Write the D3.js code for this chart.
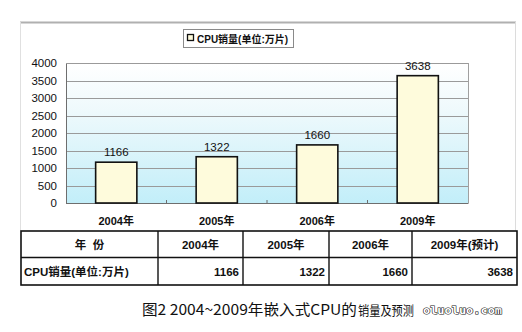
<!DOCTYPE html>
<html><head><meta charset="utf-8">
<script src="https://cdn.jsdelivr.net/npm/d3@7"></script>
<style>
html,body{margin:0;padding:0;background:#fff;}
svg{display:block;}
</style></head>
<body>
<script>
// ---- data ----
const categories = ["2004年", "2005年", "2006年", "2009年"];
const values = [1166, 1322, 1660, 3638];
const yTicks = [0, 500, 1000, 1500, 2000, 2500, 3000, 3500, 4000];
const seriesName = "CPU销量(单位:万片)";
const tableHeader = ["年  份", "2004年", "2005年", "2006年", "2009年(预计)"];
const tableRowLabel = "CPU销量(单位:万片)";
const tableValues = [1166, 1322, 1660, 3638];
const captionMain = "图2 2004~2009年嵌入式CPU的";
const captionTail = "销量及预测";
const watermarkText = "oluoluo.com";

// ---- layout ----
const W = 522, H = 332;
const plot = {left: 66, right: 468, top: 63, bottom: 203};
const tableCols = [21, 158, 243, 329, 412, 517];
const tableRows = [231, 257.5, 285];
const latin = "'Liberation Sans', Arial, 'Noto Sans CJK SC', sans-serif";
const narrow = "'Liberation Sans Narrow', 'Liberation Sans', 'Noto Sans CJK SC', sans-serif";

const svg = d3.select("body").append("svg").attr("width", W).attr("height", H);
svg.append("rect").attr("width", W).attr("height", H).attr("fill", "#fff");

const defs = svg.append("defs");
const grad = defs.append("linearGradient").attr("id", "bg").attr("x1", 0).attr("y1", 0).attr("x2", 0).attr("y2", 1);
grad.append("stop").attr("offset", "0%").attr("stop-color", "#ffffff");
grad.append("stop").attr("offset", "35%").attr("stop-color", "#eef9fc");
grad.append("stop").attr("offset", "100%").attr("stop-color", "#c2eef9");

// outer chart frame
svg.append("line").attr("x1", 20).attr("x2", 516).attr("y1", 22.5).attr("y2", 22.5)
  .attr("stroke", "#b0b0b0").attr("stroke-width", 2);
svg.append("line").attr("x1", 20.5).attr("x2", 20.5).attr("y1", 22).attr("y2", 231)
  .attr("stroke", "#e0e0e0").attr("stroke-width", 1);
svg.append("line").attr("x1", 515.5).attr("x2", 515.5).attr("y1", 22).attr("y2", 231)
  .attr("stroke", "#dcdcdc").attr("stroke-width", 1);

// scales
const x = d3.scaleBand().domain(categories).range([plot.left, plot.right])
  .paddingInner(0.59).paddingOuter(0.295);
const y = d3.scaleLinear().domain([0, 4000]).range([plot.bottom, plot.top]);

// plot background
svg.append("rect").attr("x", plot.left).attr("y", plot.top)
  .attr("width", plot.right - plot.left).attr("height", plot.bottom - plot.top)
  .attr("fill", "url(#bg)");

// gridlines
const grid = svg.append("g").attr("transform", `translate(${plot.left},0)`)
  .call(d3.axisLeft(y).tickValues(yTicks).tickSize(-(plot.right - plot.left)).tickFormat(""));
grid.select(".domain").remove();
grid.selectAll("line").attr("stroke", "#9a9a9a").attr("stroke-width", 1)
  .attr("shape-rendering", "crispEdges");

// right border
svg.append("line").attr("x1", plot.right + 0.5).attr("x2", plot.right + 0.5)
  .attr("y1", plot.top).attr("y2", plot.bottom).attr("stroke", "#a0a0a0");

// y axis labels
const yAxis = svg.append("g").attr("transform", `translate(${plot.left},0)`)
  .call(d3.axisLeft(y).tickValues(yTicks).tickSize(0).tickPadding(9).tickFormat(d3.format("d")));
yAxis.select(".domain").attr("stroke", "#6e6e6e").attr("shape-rendering", "crispEdges");
yAxis.selectAll("text").attr("font-family", latin).attr("font-size", 11.5).attr("fill", "#111");

// bottom axis line + boundary ticks
svg.append("line").attr("x1", plot.left).attr("x2", plot.right + 0.5)
  .attr("y1", plot.bottom + 0.5).attr("y2", plot.bottom + 0.5).attr("stroke", "#6e6e6e");
svg.selectAll(".btick").data(categories.slice(1)).join("line").attr("class", "btick")
  .attr("x1", d => x(d) - x.step() * x.paddingInner() / 2)
  .attr("x2", d => x(d) - x.step() * x.paddingInner() / 2)
  .attr("y1", plot.bottom - 3).attr("y2", plot.bottom).attr("stroke", "#6e6e6e");

// category labels
svg.selectAll(".cat").data(categories).join("text").attr("class", "cat")
  .attr("x", d => x(d) + x.bandwidth() / 2).attr("y", 225)
  .attr("text-anchor", "middle").attr("font-family", narrow).attr("font-weight", "bold")
  .attr("font-size", 11).attr("fill", "#111").text(d => d);

// bars
svg.selectAll(".bar").data(values).join("rect").attr("class", "bar")
  .attr("x", (d, i) => x(categories[i])).attr("width", x.bandwidth())
  .attr("y", d => y(d)).attr("height", d => y(0) - y(d))
  .attr("fill", "#fefbdc").attr("stroke", "#111").attr("stroke-width", 1.6);

// value labels
svg.selectAll(".val").data(values).join("text").attr("class", "val")
  .attr("x", (d, i) => x(categories[i]) + x.bandwidth() / 2).attr("y", d => y(d) - 6)
  .attr("text-anchor", "middle").attr("font-family", latin).attr("font-size", 11.5)
  .attr("fill", "#111").text(d => d);

// legend
const lg = svg.append("g");
lg.append("rect").attr("x", 183.5).attr("y", 29.5).attr("width", 110).attr("height", 18)
  .attr("fill", "#fff").attr("stroke", "#8a8a8a");
lg.append("rect").attr("x", 187.5).attr("y", 34.5).attr("width", 6).attr("height", 6)
  .attr("fill", "#fefbdc").attr("stroke", "#111").attr("stroke-width", 1.3);
lg.append("text").attr("x", 197).attr("y", 42.5).attr("font-family", narrow)
  .attr("font-weight", "bold").attr("font-size", 10).attr("fill", "#111").text(seriesName);

// table
const tb = svg.append("g");
tb.append("rect").attr("x", tableCols[0]).attr("y", tableRows[0])
  .attr("width", tableCols[5] - tableCols[0]).attr("height", tableRows[2] - tableRows[0])
  .attr("fill", "none").attr("stroke", "#111").attr("stroke-width", 1.6);
tb.append("line").attr("x1", tableCols[0]).attr("x2", tableCols[5])
  .attr("y1", tableRows[1]).attr("y2", tableRows[1]).attr("stroke", "#111").attr("stroke-width", 1.4);
tb.selectAll(".vline").data(tableCols.slice(1, 5)).join("line").attr("class", "vline")
  .attr("x1", d => d).attr("x2", d => d).attr("y1", tableRows[0]).attr("y2", tableRows[2])
  .attr("stroke", "#111").attr("stroke-width", 1.4);
tb.selectAll(".hdr").data(tableHeader).join("text").attr("class", "hdr")
  .attr("x", (d, i) => (tableCols[i] + tableCols[i + 1]) / 2).attr("y", 248.5)
  .attr("text-anchor", "middle").attr("font-family", narrow).attr("font-weight", "bold")
  .attr("font-size", 11.5).attr("fill", "#111").attr("xml:space", "preserve")
  .style("white-space", "pre").text(d => d);
tb.append("text").attr("x", tableCols[0] + 3).attr("y", 275.5).attr("font-family", narrow)
  .attr("font-weight", "bold").attr("font-size", 11.5).attr("fill", "#111").text(tableRowLabel);
tb.selectAll(".tv").data(tableValues).join("text").attr("class", "tv")
  .attr("x", (d, i) => tableCols[i + 2] - 4).attr("y", 275.5)
  .attr("text-anchor", "end").attr("font-family", narrow).attr("font-weight", "bold")
  .attr("font-size", 11.5).attr("fill", "#111").text(d => d);

// caption
const capFont = "'Noto Sans CJK SC', sans-serif";
svg.append("text").attr("x", 142).attr("y", 315).attr("font-family", capFont)
  .attr("font-size", 15).attr("fill", "#111")
  .attr("textLength", 215).attr("lengthAdjust", "spacingAndGlyphs").text(captionMain);
svg.append("text").attr("x", 358).attr("y", 315).attr("font-family", capFont)
  .attr("font-size", 13).attr("fill", "#111")
  .attr("textLength", 56).attr("lengthAdjust", "spacingAndGlyphs").text(captionTail);
svg.append("text").attr("x", 423).attr("y", 314).attr("font-family", "'DejaVu Sans Mono', monospace")
  .attr("font-weight", "bold").attr("font-size", 10).attr("fill", "#fff")
  .attr("stroke", "#111").attr("stroke-width", 1).attr("paint-order", "stroke")
  .attr("textLength", 79).attr("lengthAdjust", "spacingAndGlyphs").text(watermarkText);
</script>
</body></html>
